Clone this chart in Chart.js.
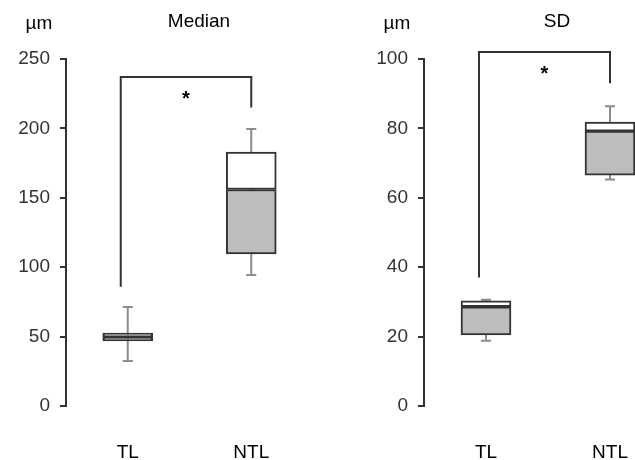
<!DOCTYPE html>
<html><head><meta charset="utf-8">
<script src="https://cdn.jsdelivr.net/npm/chart.js@4"></script>
<style>
html,body{margin:0;padding:0;width:635px;height:460px;overflow:hidden;background:#fff;}
#c1{position:absolute;left:0;top:0;}
#c2{position:absolute;left:317px;top:0;}
</style></head><body>
<canvas id="c1" width="317" height="460"></canvas>
<canvas id="c2" width="360" height="460"></canvas>
<script>
// ---- data ----
const categories = ['TL', 'NTL'];

const medianTicks = [0, 50, 100, 150, 200, 250];
const medianMin = [32.4, 94.4];
const medianQ1  = [46.8, 109.5];
const medianMed = [49.7, 156];
const medianQ3  = [52.6, 183];
const medianMax = [71.3, 199.5];
const medianBracket = [86, 237, 215]; // left end, top, right end

const sdTicks = [0, 20, 40, 60, 80, 100];
const sdMin = [18.8, 65.3];
const sdQ1  = [20.5, 66.5];
const sdMed = [28.6, 79.2];
const sdQ3  = [30.3, 81.8];
const sdMax = [30.6, 86.4];
const sdBracket = [37, 102, 93];

const FONT = "'Liberation Sans', Arial, sans-serif";

function extras(minArr, maxArr, bracket, title) {
  return {
    id: 'extras',
    beforeDatasetsDraw(chart) {
      const {ctx, scales: {x, y}} = chart;
      ctx.save();
      ctx.strokeStyle = '#8c8c8c';
      ctx.lineWidth = 2;
      categories.forEach((c, i) => {
        const px = x.getPixelForValue(i);
        const y0 = y.getPixelForValue(minArr[i]);
        const y1 = y.getPixelForValue(maxArr[i]);
        ctx.beginPath();
        ctx.moveTo(px, y0); ctx.lineTo(px, y1);
        ctx.moveTo(px - 5, y0); ctx.lineTo(px + 5, y0);
        ctx.moveTo(px - 5, y1); ctx.lineTo(px + 5, y1);
        ctx.stroke();
      });
      ctx.restore();
    },
    afterDraw(chart) {
      const {ctx, chartArea, scales: {x, y}} = chart;
      ctx.save();
      // bracket
      const xl = x.getPixelForValue(0) - 7;
      const xr = x.getPixelForValue(1);
      const yt = y.getPixelForValue(bracket[1]);
      ctx.strokeStyle = '#333';
      ctx.lineWidth = 2;
      ctx.beginPath();
      ctx.moveTo(xl, y.getPixelForValue(bracket[0]));
      ctx.lineTo(xl, yt);
      ctx.lineTo(xr, yt);
      ctx.lineTo(xr, y.getPixelForValue(bracket[2]));
      ctx.stroke();
      ctx.fillStyle = '#000';
      ctx.textAlign = 'center';
      ctx.textBaseline = 'middle';
      ctx.font = 'bold 20px ' + FONT;
      ctx.fillText('*', (xl + xr) / 2, yt + 22);
      // titles
      ctx.font = '19px ' + FONT;
      ctx.fillText('µm', chartArea.left - 27, 24);
      ctx.fillText(title, chartArea.left + 133, 22);
      ctx.restore();
    }
  };
}

function makeChart(id, ticks, q1, med, q3, minArr, maxArr, bracket, title, axisWidth, padRight) {
  const maxV = ticks[ticks.length - 1];
  return new Chart(document.getElementById(id), {
    type: 'bar',
    data: {
      labels: categories,
      datasets: [
        {
          data: categories.map((c, i) => [q1[i], med[i]]),
          backgroundColor: '#bdbdbd',
          borderColor: '#333',
          borderWidth: 2,
          borderSkipped: false,
          grouped: false,
          barThickness: 50
        },
        {
          data: categories.map((c, i) => [med[i], q3[i]]),
          backgroundColor: '#ffffff',
          borderColor: '#333',
          borderWidth: 2,
          borderSkipped: false,
          grouped: false,
          barThickness: 50
        }
      ]
    },
    options: {
      responsive: false,
      animation: false,
      layout: {padding: {top: 59, right: padRight, bottom: 0, left: 0}},
      plugins: {legend: {display: false}, tooltip: {enabled: false}, title: {display: false}},
      scales: {
        x: {
          offset: true,
          grid: {display: false, drawTicks: false},
          border: {display: false},
          ticks: {color: '#000', padding: 35, font: {family: FONT, size: 19}},
          afterFit(s) { s.height = 54; }
        },
        y: {
          min: 0,
          max: maxV,
          afterBuildTicks(s) { s.ticks = ticks.map(v => ({value: v})); },
          grid: {display: true, drawOnChartArea: false, drawTicks: true, tickLength: 6, color: '#333', lineWidth: 2},
          border: {display: true, color: '#333', width: 2},
          ticks: {color: '#333', padding: 10, font: {family: FONT, size: 19}},
          afterFit(s) { s.width = axisWidth; }
        }
      }
    },
    plugins: [extras(minArr, maxArr, bracket, title)]
  });
}

makeChart('c1', medianTicks, medianQ1, medianMed, medianQ3, medianMin, medianMax, medianBracket, 'Median', 66, 4);
makeChart('c2', sdTicks, sdQ1, sdMed, sdQ3, sdMin, sdMax, sdBracket, 'SD', 107, 5);
</script>
</body></html>
